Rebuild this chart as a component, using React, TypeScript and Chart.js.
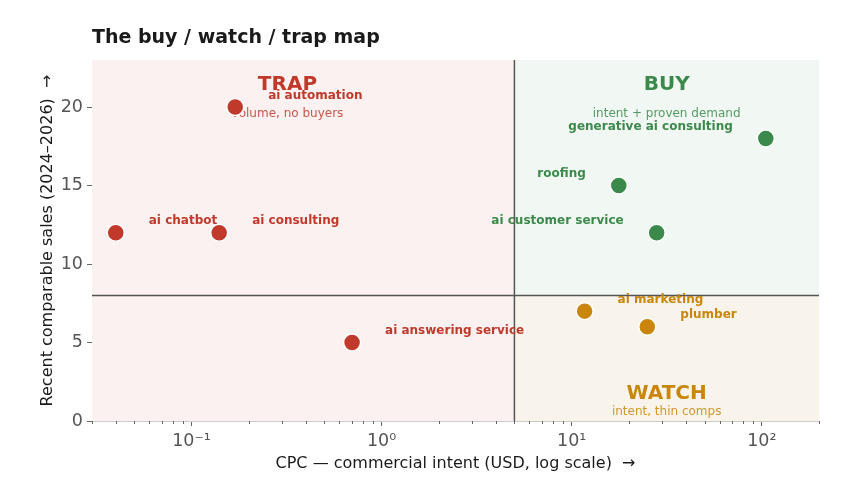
import React, { useEffect, useRef } from "react";
import { Chart, registerables } from "chart.js";

Chart.register(...registerables);

// ---- data ----
const KEYWORDS = [
  "ai automation",
  "ai chatbot",
  "ai consulting",
  "ai answering service",
  "generative ai consulting",
  "roofing",
  "ai customer service",
  "ai marketing",
  "plumber",
];
const CPC = [0.17, 0.04, 0.14, 0.7, 105, 17.7, 28, 11.7, 25];
const SALES = [20, 12, 12, 5, 18, 15, 12, 7, 6];
const GROUP = ["trap", "trap", "trap", "trap", "buy", "buy", "buy", "watch", "watch"];

const X_MIN = 0.03;
const X_MAX = 200;
const Y_MIN = 0;
const Y_MAX = 23;
const X_TICKS = [0.1, 1, 10, 100];
const X_TICK_LABELS = ["10⁻¹", "10⁰", "10¹", "10²"];
const Y_TICKS = [0, 5, 10, 15, 20];
const CPC_SPLIT = 5;
const SALES_SPLIT = 8;

const Q_NAMES = ["trap", "buy", "watch"];
const Q_TITLES = ["TRAP", "BUY", "WATCH"];
const Q_SUBTITLES = ["volume, no buyers", "intent + proven demand", "intent, thin comps"];
const Q_X = [0.32, 31.6, 31.6];
const Q_TITLE_Y = [21.4, 21.4, 1.72];
const Q_SUB_Y = [19.55, 19.55, 0.57];

const COLORS: Record<string, string> = { trap: "#c0392b", buy: "#3b8a4b", watch: "#c9860b" };
const SUB_COLORS: Record<string, string> = { trap: "rgba(192,57,43,0.85)", buy: "rgba(59,138,75,0.85)", watch: "rgba(201,134,11,0.85)" };
const BG: Record<string, string> = { trap: "#fbf1f0", buy: "#f1f7f2", watch: "#f9f4eb" };

const FONT = "DejaVu Sans";

const quadrantPlugin = {
  id: "quadrants",
  beforeDatasetsDraw(chart: any) {
    const { ctx, chartArea: a, scales } = chart;
    const xs = scales.x, ys = scales.y;
    const sx = xs.getPixelForValue(CPC_SPLIT);
    const sy = ys.getPixelForValue(SALES_SPLIT);
    ctx.save();
    ctx.fillStyle = BG.trap;
    ctx.fillRect(a.left, a.top, sx - a.left, a.bottom - a.top);
    ctx.fillStyle = BG.buy;
    ctx.fillRect(sx, a.top, a.right - sx, sy - a.top);
    ctx.fillStyle = BG.watch;
    ctx.fillRect(sx, sy, a.right - sx, a.bottom - sy);

    ctx.strokeStyle = "#555";
    ctx.lineWidth = 1.5;
    ctx.beginPath();
    ctx.moveTo(sx, a.top);
    ctx.lineTo(sx, a.bottom);
    ctx.moveTo(a.left, sy);
    ctx.lineTo(a.right, sy);
    ctx.stroke();

    ctx.textAlign = "center";
    ctx.textBaseline = "middle";
    Q_NAMES.forEach((q, i) => {
      const px = xs.getPixelForValue(Q_X[i]);
      ctx.fillStyle = COLORS[q];
      ctx.font = `bold 20px "${FONT}"`;
      ctx.fillText(Q_TITLES[i], px, ys.getPixelForValue(Q_TITLE_Y[i]));
      ctx.fillStyle = SUB_COLORS[q];
      ctx.font = `12px "${FONT}"`;
      ctx.fillText(Q_SUBTITLES[i], px, ys.getPixelForValue(Q_SUB_Y[i]));
    });
    ctx.restore();
  },
  afterDatasetsDraw(chart: any) {
    const { ctx, scales } = chart;
    const xs = scales.x, ys = scales.y;
    ctx.save();
    ctx.font = `bold 12px "${FONT}"`;
    ctx.textBaseline = "middle";
    KEYWORDS.forEach((k, i) => {
      const g = GROUP[i];
      const px = xs.getPixelForValue(CPC[i]);
      const py = ys.getPixelForValue(SALES[i]);
      ctx.fillStyle = COLORS[g];
      if (g === "buy") {
        ctx.textAlign = "right";
        ctx.fillText(k, px - 33, py - 11.5);
      } else {
        ctx.textAlign = "left";
        ctx.fillText(k, px + 33, py - 11.5);
      }
    });
    ctx.restore();
  },
  afterDraw(chart: any) {
    const { ctx, chartArea: a, scales } = chart;
    const xs = scales.x;
    ctx.save();
    ctx.strokeStyle = "#666";
    ctx.lineWidth = 1;
    ctx.beginPath();
    for (let d = -2; d <= 2; d++) {
      for (let m = 2; m <= 9; m++) {
        const v = m * Math.pow(10, d);
        if (v < X_MIN - 1e-9 || v > X_MAX + 1e-9) continue;
        const px = Math.round(xs.getPixelForValue(v)) + 0.5;
        ctx.moveTo(px, a.bottom);
        ctx.lineTo(px, a.bottom + 3);
      }
    }
    ctx.stroke();
    // title
    ctx.fillStyle = "#1a1a1a";
    ctx.font = `bold 19px "${FONT}"`;
    ctx.textAlign = "left";
    ctx.textBaseline = "middle";
    ctx.fillText("The buy / watch / trap map", a.left, 38);
    ctx.restore();
  },
};

export default function App() {
  const ref = useRef<HTMLCanvasElement | null>(null);
  useEffect(() => {
    if (!ref.current) return;
    Chart.defaults.font.family = FONT;
    const datasets = Q_NAMES.map((q) => ({
      label: q,
      data: KEYWORDS.map((_, i) => i).filter((i) => GROUP[i] === q).map((i) => ({ x: CPC[i], y: SALES[i] })),
      backgroundColor: COLORS[q],
      borderColor: "#ffffff",
      borderWidth: 1.5,
      pointRadius: 8.5,
      pointHoverRadius: 8.5,
    }));
    const chart = new Chart(ref.current, {
      type: "scatter",
      data: { datasets },
      plugins: [quadrantPlugin],
      options: {
        animation: false,
        responsive: false,
        maintainAspectRatio: false,
        events: [],
        layout: { padding: { top: 60, right: 25, left: 0, bottom: 0 } },
        plugins: { legend: { display: false }, tooltip: { enabled: false }, title: { display: false } },
        scales: {
          x: {
            type: "logarithmic",
            min: X_MIN,
            max: X_MAX,
            afterBuildTicks: (s: any) => {
              s.ticks = X_TICKS.map((v) => ({ value: v }));
            },
            afterFit: (s: any) => {
              s.height = 81;
            },
            ticks: {
              autoSkip: false,
              maxRotation: 0,
              padding: 5,
              color: "#555",
              font: { size: 17.5 },
              callback: (v: any) => {
                const i = X_TICKS.findIndex((t) => Math.abs(t - Number(v)) < 1e-9);
                return i >= 0 ? X_TICK_LABELS[i] : "";
              },
            },
            grid: { drawOnChartArea: false, drawTicks: true, tickLength: 5, tickColor: "#666" },
            border: { color: "#cccccc", width: 1 },
            title: {
              display: true,
              text: "CPC — commercial intent (USD, log scale)  →",
              color: "#1a1a1a",
              font: { size: 16 },
              padding: { top: 0, bottom: 29 },
            },
          },
          y: {
            type: "linear",
            min: Y_MIN,
            max: Y_MAX,
            afterBuildTicks: (s: any) => {
              s.ticks = Y_TICKS.map((v) => ({ value: v }));
            },
            afterFit: (s: any) => {
              s.width = 92;
            },
            ticks: { padding: 4, color: "#555", font: { size: 17.5 } },
            grid: { drawOnChartArea: false, drawTicks: true, tickLength: 5, tickColor: "#666" },
            border: { color: "#cccccc", width: 1 },
            title: {
              display: true,
              text: "Recent comparable sales (2024–2026)  →",
              color: "#1a1a1a",
              font: { size: 16 },
              padding: { top: 38, bottom: 0 },
            },
          },
        },
      },
    } as any);
    return () => chart.destroy();
  }, []);
  return (
    <div style={{ position: "fixed", left: 0, top: 0, width: 844, height: 502, background: "#fff" }}>
      <canvas ref={ref} width={844} height={502} style={{ width: 844, height: 502 }} />
    </div>
  );
}
